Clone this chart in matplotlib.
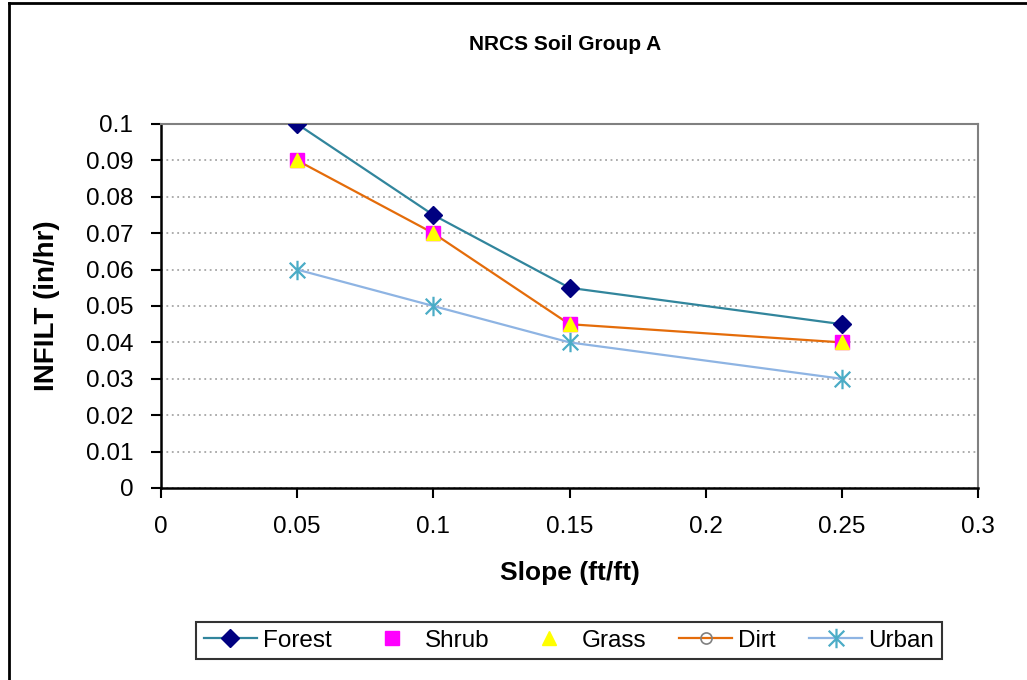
import matplotlib
matplotlib.use("Agg")
import matplotlib.pyplot as plt
from matplotlib.lines import Line2D
from matplotlib.path import Path

plt.rcParams['font.family'] = ['Liberation Sans', 'DejaVu Sans']

# data
slope = [0.05, 0.1, 0.15, 0.25]
forest = [0.1, 0.075, 0.055, 0.045]
shrub = [0.09, 0.07, 0.045, 0.04]
grass = [0.09, 0.07, 0.045, 0.04]
dirt = [0.09, 0.07, 0.045, 0.04]
urban = [0.06, 0.05, 0.04, 0.03]

x_ticks = [0, 0.05, 0.1, 0.15, 0.2, 0.25, 0.3]
y_ticks = [0, 0.01, 0.02, 0.03, 0.04, 0.05, 0.06, 0.07, 0.08, 0.09, 0.1]

# six-armed asterisk like the Excel marker
star = Path([(0, -1), (0, 1), (-0.8, -0.8), (0.8, 0.8), (-0.8, 0.8), (0.8, -0.8)],
            [Path.MOVETO, Path.LINETO, Path.MOVETO, Path.LINETO, Path.MOVETO, Path.LINETO])

fig = plt.figure(figsize=(10.27, 6.8), dpi=100)
ax = fig.add_axes([161 / 1027, 1 - 488 / 680, (978 - 161) / 1027, (488 - 124) / 680])

ax.plot(slope, dirt, color='#E46C0A', lw=1.6, marker='o', ms=8, mfc='none',
        mec='#808080', mew=1.2, zorder=2, label='Dirt')
ax.plot(slope, forest, color='#31859C', lw=1.6, marker='D', ms=9, mfc='#000080',
        mec='#000080', zorder=3, label='Forest')
ax.plot(slope, urban, color='#8EB4E3', lw=1.6, marker=star, ms=14, mec='#4BACC6',
        mew=1.6, zorder=3, label='Urban')
ax.plot(slope, shrub, ls='none', marker='s', ms=10, mfc='#FF00FF', mec='#FF00FF',
        zorder=4, label='Shrub')
ax.plot(slope, grass, ls='none', marker='^', ms=10, mfc='#FFFF00', mec='#FFFF00',
        zorder=5, label='Grass')

ax.set_xlim(0, 0.3)
ax.set_ylim(0, 0.1)
ax.set_xticks(x_ticks)
ax.set_yticks(y_ticks)
ax.set_xticklabels(['%g' % v for v in x_ticks])
ax.set_yticklabels(['%g' % v for v in y_ticks])
ax.tick_params(axis='both', direction='out', length=7, width=1.5, labelsize=17.5,
               pad=13, color='black')
ax.grid(axis='y', color='#A6A6A6', ls=(0, (1, 2)), lw=1.3)
ax.set_axisbelow(True)

for s in ['left', 'bottom']:
    ax.spines[s].set_color('black')
    ax.spines[s].set_linewidth(1.8)
for s in ['top', 'right']:
    ax.spines[s].set_color('#808080')
    ax.spines[s].set_linewidth(1.5)

ax.set_xlabel('Slope (ft/ft)', fontsize=19, fontweight='bold')
ax.set_ylabel('INFILT (in/hr)', fontsize=20, fontweight='bold')
ax.xaxis.set_label_coords(0.5, -0.2)
ax.yaxis.set_label_coords(-0.124, 0.5)

fig.text(565 / 1027, 1 - 44.5 / 680, 'NRCS Soil Group A', fontsize=15,
         fontweight='bold', ha='center', va='center')

# legend in Excel order
handles = [
    Line2D([], [], color='#31859C', lw=1.6, marker='D', ms=9, mfc='#000080', mec='#000080'),
    Line2D([], [], ls='none', marker='s', ms=10, mfc='#FF00FF', mec='#FF00FF'),
    Line2D([], [], ls='none', marker='^', ms=10, mfc='#FFFF00', mec='#FFFF00'),
    Line2D([], [], color='#E46C0A', lw=1.6, marker='o', ms=8, mfc='none', mec='#808080', mew=1.2),
    Line2D([], [], color='#8EB4E3', lw=1.6, marker=star, ms=14, mec='#4BACC6', mew=1.6),
]
labels = ['Forest', 'Shrub', 'Grass', 'Dirt', 'Urban']
leg = fig.legend(handles, labels, loc='center', bbox_to_anchor=(569 / 1027, 1 - 640.5 / 680),
                 ncol=5, fontsize=17.5, frameon=True, fancybox=False, borderpad=0.3,
                 handlelength=2.2, handletextpad=0.25, columnspacing=1.35)
leg.get_frame().set_edgecolor('black')
leg.get_frame().set_linewidth(1.5)

# outer chart border (left and top edges visible)
fig.add_artist(Line2D([9 / 1027, 9 / 1027], [0, 1 - 3 / 680], color='black', lw=2,
                      transform=fig.transFigure))
fig.add_artist(Line2D([9 / 1027, 1], [1 - 3 / 680, 1 - 3 / 680], color='black', lw=2,
                      transform=fig.transFigure))

fig.savefig('out.png', dpi=100)
